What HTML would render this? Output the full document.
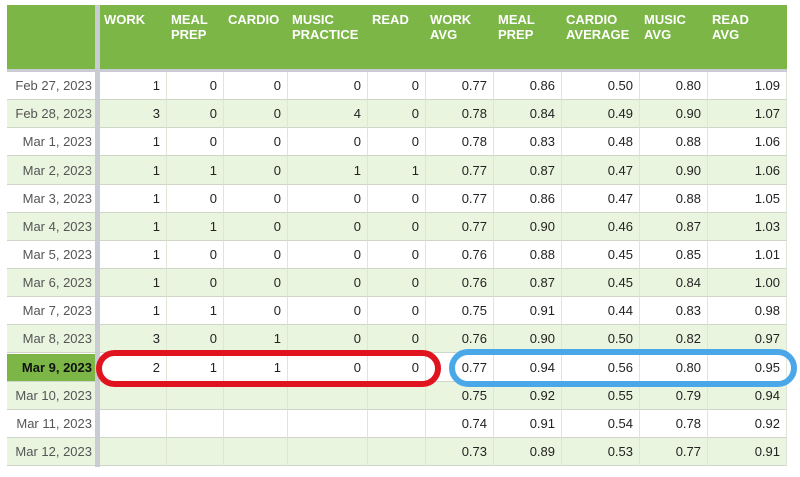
<!DOCTYPE html>
<html><head><meta charset="utf-8">
<style>
body{margin:0;width:800px;height:477px;background:#fff;overflow:hidden;font-family:"Liberation Sans",Arial,sans-serif;position:relative}
.c{position:absolute;box-sizing:border-box;font-size:13px;color:#222;border-right:1px solid #dfe6d8;border-bottom:1px solid #cfd6c8;padding:0 6px;display:flex;align-items:center;justify-content:flex-end;white-space:nowrap;overflow:hidden}
.h{position:absolute;background:#7bb646;color:#fff;font-weight:bold;font-size:13px;line-height:15px;padding:7px 4px;box-sizing:border-box}
.d{color:#555;border-right:none;padding:0 3px 0 0;font-size:13px}
</style></head><body>
<div id="t"></div>
<div style="position:absolute;left:96px;top:350px;width:345px;height:37px;border:6px solid #e0141e;border-radius:20px;box-sizing:border-box"></div>
<div style="position:absolute;left:449px;top:349px;width:348px;height:38px;border:6px solid #4aa8e8;border-radius:20px;box-sizing:border-box"></div>
<script>
const headers=["WORK","MEAL<br>PREP","CARDIO","MUSIC<br>PRACTICE","READ","WORK<br>AVG","MEAL<br>PREP","CARDIO<br>AVERAGE","MUSIC<br>AVG","READ<br>AVG"];
const dates=["Feb 27, 2023","Feb 28, 2023","Mar 1, 2023","Mar 2, 2023","Mar 3, 2023","Mar 4, 2023","Mar 5, 2023","Mar 6, 2023","Mar 7, 2023","Mar 8, 2023","Mar 9, 2023","Mar 10, 2023","Mar 11, 2023","Mar 12, 2023"];
const work=[1,3,1,1,1,1,1,1,1,3,2,"","",""];
const meal=[0,0,0,1,0,1,0,0,1,0,1,"","",""];
const cardio=[0,0,0,0,0,0,0,0,0,1,1,"","",""];
const music=[0,4,0,1,0,0,0,0,0,0,0,"","",""];
const read=[0,0,0,1,0,0,0,0,0,0,0,"","",""];
const workAvg=["0.77","0.78","0.78","0.77","0.77","0.77","0.76","0.76","0.75","0.76","0.77","0.75","0.74","0.73"];
const mealAvg=["0.86","0.84","0.83","0.87","0.86","0.90","0.88","0.87","0.91","0.90","0.94","0.92","0.91","0.89"];
const cardioAvg=["0.50","0.49","0.48","0.47","0.47","0.46","0.45","0.45","0.44","0.50","0.56","0.55","0.54","0.53"];
const musicAvg=["0.80","0.90","0.88","0.90","0.88","0.87","0.85","0.84","0.83","0.82","0.80","0.79","0.78","0.77"];
const readAvg=["1.09","1.07","1.06","1.06","1.05","1.03","1.01","1.00","0.98","0.97","0.95","0.94","0.92","0.91"];
const cols=[work,meal,cardio,music,read,workAvg,mealAvg,cardioAvg,musicAvg,readAvg];
const names=["work","meal-prep","cardio","music-practice","read","work-avg","meal-prep-avg","cardio-avg","music-avg","read-avg"];
const xs=[100,167,224,288,368,426,494,562,640,708,787];
const t=document.getElementById('t');
const top0=72,rh=28.15;
function mk(cls,x,y,w,h,html,bg){const e=document.createElement('div');e.className=cls;e.style.left=x+'px';e.style.top=y+'px';e.style.width=w+'px';e.style.height=h+'px';e.innerHTML=html;if(bg)e.style.background=bg;t.appendChild(e);return e;}
let e=mk('h',7,5,88,67,'');


e=document.createElement('div');e.style.cssText='position:absolute;left:95px;top:5px;width:5px;height:462px;background:#c9cdd3';t.appendChild(e);


e=document.createElement('div');e.style.cssText='position:absolute;left:7px;top:69px;width:780px;height:3px;background:#c9cdd3';t.appendChild(e);


headers.forEach((h,i)=>{const el=mk('h',xs[i],5,xs[i+1]-xs[i],64,h);

});
dates.forEach((d,r)=>{
 const y=top0+r*rh;const bg=r%2?'#eaf5e0':'#fff';
 const sel=r===10;
 const dc=mk('c d',7,y,88,rh,d,sel?'#7bb646':bg);
 if(sel){dc.style.fontWeight='bold';dc.style.color='#111';}
 
 
 cols.forEach((c,i)=>{const el=mk('c',xs[i],y,xs[i+1]-xs[i],rh,c[r],bg);
 
 });
});
</script>
</body></html>
